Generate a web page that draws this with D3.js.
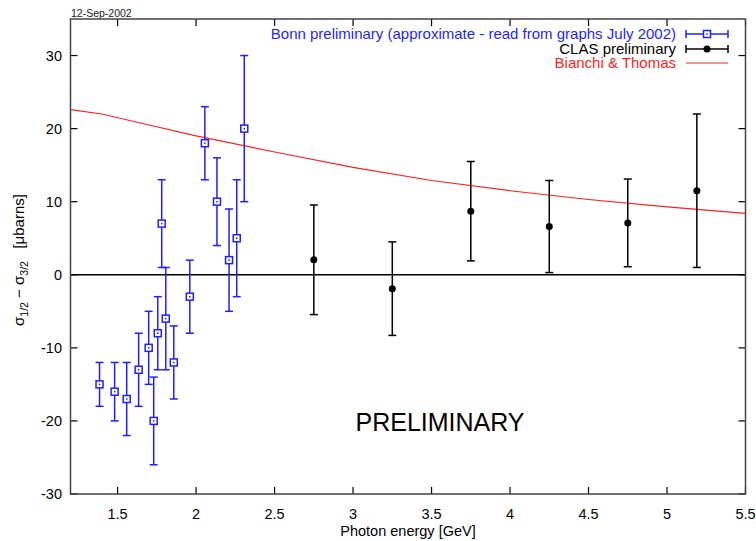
<!DOCTYPE html>
<html>
<head>
<meta charset="utf-8">
<script src="https://cdn.jsdelivr.net/npm/d3@7"></script>
<style>
  body { margin: 0; background: #fff; }
  svg text { font-family: "Liberation Sans", Arial, sans-serif; }
</style>
</head>
<body>
<svg id="chart" width="756" height="541"></svg>
<script>
// Bonn preliminary (blue squares)
var bonnX   = [1.385, 1.481, 1.558, 1.634, 1.698, 1.730, 1.756, 1.781, 1.807, 1.858, 1.960, 2.056, 2.133, 2.210, 2.259, 2.307];
var bonnY   = [-15, -16, -17, -13, -10, -20, -8, 7, -6, -12, -3, 18, 10, 2, 5, 20];
var bonnErr = [3, 4, 5, 5, 5, 6, 5, 6, 7, 5, 5, 5, 6, 7, 8, 10];

// CLAS preliminary (black dots)
var clasX   = [2.75, 3.25, 3.75, 4.25, 4.75, 5.19];
var clasY   = [2.05, -1.9, 8.7, 6.6, 7.1, 11.5];
var clasErr = [7.5, 6.4, 6.8, 6.3, 6.0, 10.5];

// Bianchi & Thomas curve
var theoryX = [1.2, 1.4, 1.7, 2.0, 2.5, 3.0, 3.5, 4.0, 4.5, 5.0, 5.5];
var theoryY = [22.6, 22.0, 20.5, 19.0, 16.8, 14.7, 12.9, 11.5, 10.3, 9.3, 8.4];

var xTicks = [1.5, 2, 2.5, 3, 3.5, 4, 4.5, 5, 5.5];
var yTicks = [-30, -20, -10, 0, 10, 20, 30];

var legendLabels = ["Bonn preliminary (approximate - read from graphs July 2002)", "CLAS preliminary", "Bianchi & Thomas"];

var blue = "#1f1fff", red = "#ff1f1f";

var svg = d3.select("#chart");
var plotLeft = 70.5, plotRight = 745.5, plotTop = 19, plotBottom = 494;

var x = d3.scaleLinear().domain([1.2, 5.5]).range([plotLeft, plotRight]);
var y = d3.scaleLinear().domain([-30, 35]).range([plotBottom, plotTop]);

// date stamp
svg.append("text").attr("x", 71).attr("y", 17).attr("font-size", 10.5).attr("fill", "#222").text("12-Sep-2002");

// zero line
svg.append("line")
  .attr("x1", plotLeft).attr("x2", plotRight)
  .attr("y1", y(0)).attr("y2", y(0))
  .attr("stroke", "#000").attr("stroke-width", 1.5);

// ticks (gnuplot style, inward, mirrored)
var tl = 7;
var g = svg.append("g").attr("stroke", "#000").attr("stroke-width", 1.2);
xTicks.forEach(function (t) {
  g.append("line").attr("x1", x(t)).attr("x2", x(t)).attr("y1", plotBottom).attr("y2", plotBottom - tl);
  g.append("line").attr("x1", x(t)).attr("x2", x(t)).attr("y1", plotTop).attr("y2", plotTop + tl);
});
yTicks.forEach(function (t) {
  g.append("line").attr("x1", plotLeft).attr("x2", plotLeft + tl).attr("y1", y(t)).attr("y2", y(t));
  g.append("line").attr("x1", plotRight).attr("x2", plotRight - tl).attr("y1", y(t)).attr("y2", y(t));
});

svg.selectAll(".xlab").data(xTicks).enter().append("text")
  .attr("x", function (d) { return x(d); })
  .attr("y", 519)
  .attr("text-anchor", "middle").attr("font-size", 14.5)
  .text(function (d) { return d; });

svg.selectAll(".ylab").data(yTicks).enter().append("text")
  .attr("x", 62)
  .attr("y", function (d) { return y(d) + 5; })
  .attr("text-anchor", "end").attr("font-size", 14.5)
  .text(function (d) { return d; });

// frame
svg.append("rect")
  .attr("x", plotLeft).attr("y", plotTop)
  .attr("width", plotRight - plotLeft).attr("height", plotBottom - plotTop)
  .attr("fill", "none").attr("stroke", "#444").attr("stroke-width", 1.5);

// axis titles
svg.append("text").attr("x", (plotLeft + plotRight) / 2).attr("y", 536)
  .attr("text-anchor", "middle").attr("font-size", 14.5).text("Photon energy [GeV]");

var yt = svg.append("text")
  .attr("transform", "translate(24,260) rotate(-90)")
  .attr("text-anchor", "middle").attr("font-size", 15);
yt.append("tspan").text("σ");
yt.append("tspan").attr("font-size", 10.5).attr("dy", 4).text("1/2");
yt.append("tspan").attr("dy", -4).text(" − σ");
yt.append("tspan").attr("font-size", 10.5).attr("dy", 4).text("3/2");
yt.append("tspan").attr("dy", -4).attr("xml:space", "preserve").text("   [μbarns]");

// PRELIMINARY
svg.append("text").attr("x", 440).attr("y", 431)
  .attr("text-anchor", "middle").attr("font-size", 25).text("PRELIMINARY");

// theory curve
var line = d3.line().x(function (d) { return x(d[0]); }).y(function (d) { return y(d[1]); });
svg.append("path")
  .datum(d3.zip(theoryX, theoryY))
  .attr("d", line)
  .attr("fill", "none").attr("stroke", red).attr("stroke-width", 1.2);

function errorBars(data, color) {
  var cap = 4;
  var eb = svg.append("g").attr("stroke", color).attr("stroke-width", 1.5);
  data.forEach(function (d) {
    eb.append("line").attr("x1", x(d[0])).attr("x2", x(d[0])).attr("y1", y(d[1] - d[2])).attr("y2", y(d[1] + d[2]));
    eb.append("line").attr("x1", x(d[0]) - cap).attr("x2", x(d[0]) + cap).attr("y1", y(d[1] - d[2])).attr("y2", y(d[1] - d[2]));
    eb.append("line").attr("x1", x(d[0]) - cap).attr("x2", x(d[0]) + cap).attr("y1", y(d[1] + d[2])).attr("y2", y(d[1] + d[2]));
  });
}

var bonn = d3.zip(bonnX, bonnY, bonnErr);
var clas = d3.zip(clasX, clasY, clasErr);

errorBars(bonn, blue);
errorBars(clas, "#000");

// bonn squares
svg.selectAll(".sq").data(bonn).enter().append("rect")
  .attr("x", function (d) { return x(d[0]) - 3.5; })
  .attr("y", function (d) { return y(d[1]) - 3.5; })
  .attr("width", 7).attr("height", 7)
  .attr("fill", "#fff").attr("stroke", blue).attr("stroke-width", 1.5);
svg.selectAll(".sqdot").data(bonn).enter().append("rect")
  .attr("x", function (d) { return x(d[0]) - 0.75; })
  .attr("y", function (d) { return y(d[1]) - 0.75; })
  .attr("width", 1.5).attr("height", 1.5).attr("fill", blue);

// clas dots
svg.selectAll(".dot").data(clas).enter().append("circle")
  .attr("cx", function (d) { return x(d[0]); })
  .attr("cy", function (d) { return y(d[1]); })
  .attr("r", 3.5).attr("fill", "#000");

// legend
var legColors = [blue, "#000", red];
var legY = [34, 49, 63];
var lg = svg.append("g");
legendLabels.forEach(function (label, i) {
  lg.append("text").attr("x", 676).attr("y", legY[i] + 5)
    .attr("text-anchor", "end").attr("font-size", 15).attr("fill", legColors[i]).text(label);
  lg.append("line").attr("x1", 686).attr("x2", 728).attr("y1", legY[i]).attr("y2", legY[i])
    .attr("stroke", legColors[i]).attr("stroke-width", i == 2 ? 1.2 : 1.5);
  if (i < 2) {
    [686, 728].forEach(function (cx) {
      lg.append("line").attr("x1", cx).attr("x2", cx).attr("y1", legY[i] - 4).attr("y2", legY[i] + 4)
        .attr("stroke", legColors[i]).attr("stroke-width", 1.5);
    });
  }
});
lg.append("rect").attr("x", 707 - 3.5).attr("y", legY[0] - 3.5).attr("width", 7).attr("height", 7)
  .attr("fill", "#fff").attr("stroke", blue).attr("stroke-width", 1.5);
lg.append("rect").attr("x", 707 - 0.75).attr("y", legY[0] - 0.75).attr("width", 1.5).attr("height", 1.5).attr("fill", blue);
lg.append("circle").attr("cx", 707).attr("cy", legY[1]).attr("r", 3.5).attr("fill", "#000");
</script>
</body>
</html>
